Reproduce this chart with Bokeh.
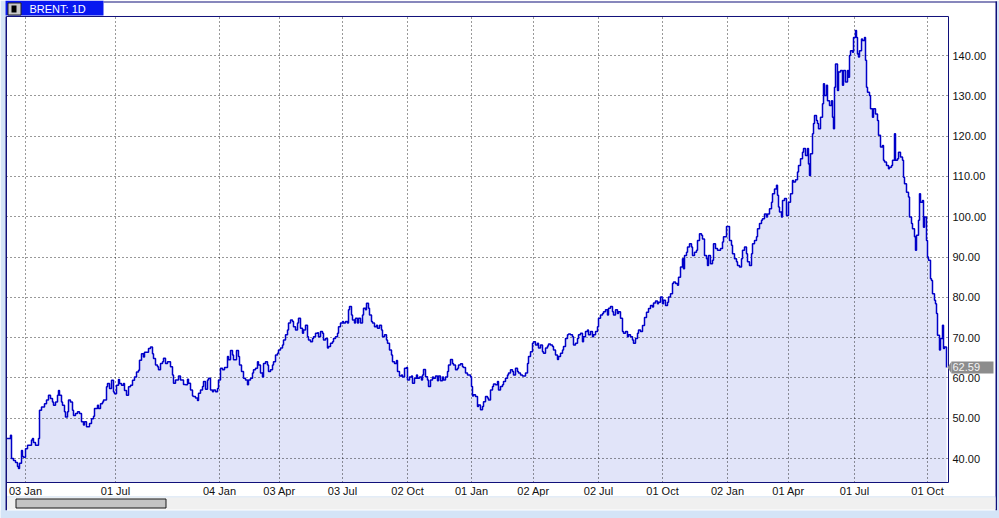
from bokeh.plotting import figure
from bokeh.models import (Range1d, FixedTicker, BoxAnnotation, Label, PolyAnnotation,
                          PrintfTickFormatter, ColumnDataSource)
from bokeh.embed import file_html
from bokeh.resources import INLINE

symbol = "BRENT: 1D"

# session index (trading-bar number from chart start) and close
session = [
    0, 2, 4, 5, 7, 9, 11, 12, 13, 15,
    16, 17, 19, 21, 23, 25, 26, 27, 29, 31,
    32, 33, 35, 37, 38, 40, 42, 44, 46, 47,
    49, 51, 52, 53, 55, 56, 58, 59, 61, 62,
    64, 66, 67, 69, 71, 73, 75, 77, 78, 80,
    82, 83, 85, 87, 88, 91, 92, 94, 96, 97,
    100, 101, 103, 105, 107, 108, 110, 112, 113, 115,
    117, 118, 120, 122, 124, 126, 128, 130, 132, 133,
    135, 137, 138, 141, 142, 144, 146, 147,
    149, 151, 152, 154, 156, 157, 159, 161, 162, 164,
    166, 167, 169, 171, 172, 174, 176, 177, 179, 181,
    182, 184, 186, 187, 189, 191, 192, 194, 196, 197,
    199, 201, 202, 204, 206, 207, 209, 211, 212, 214,
    216, 218, 221, 222, 224, 226, 227, 230, 232, 233,
    235, 237, 239, 241, 242, 244, 246, 247, 249, 251,
    252, 254, 256, 257, 259, 261, 262, 264, 266, 267,
    269, 271, 272, 274, 276, 277, 279, 281, 282, 284,
    286, 287, 289, 291, 292, 294, 296, 297, 299, 301,
    302, 304, 306, 307,
    309, 311, 312, 314, 316, 317, 319, 321, 322, 324,
    326, 327, 329, 331, 332, 334, 336, 337, 339, 341,
    342, 343, 345, 346, 348, 349, 351, 352, 354, 356,
    357, 359, 360, 362, 363, 365, 366, 368, 370, 371,
    373, 375, 376, 378, 380, 381, 383, 385, 386, 388,
    390, 391, 393, 395, 396, 398, 400, 401, 403, 405,
    406, 408, 410, 411, 413, 415, 416, 417, 419, 421,
    422, 424, 426, 427, 429, 431, 432, 434, 436, 437,
    439, 441, 442, 444, 446, 447, 449, 451, 452, 454,
    456, 457, 459, 461, 462, 464, 465, 466, 467,
    469, 471, 472, 474, 476, 477, 479, 481, 482, 484,
    486, 487, 489, 491, 492, 494, 496, 497, 499, 501,
    502, 504, 506, 507, 509, 511, 512, 514, 516, 517,
    519, 521, 522, 524, 526, 527, 529, 531, 532, 534,
    536, 537, 539, 541, 542, 544, 546, 547, 549, 551,
    552, 554, 556, 557, 559, 561, 562, 564, 566, 567,
    569, 571, 572, 574, 576, 577, 579, 581, 582, 584,
    586, 587, 589, 591, 592, 594, 596, 597, 599, 601,
    602, 604, 606, 607, 609, 611, 612, 614, 616, 617,
    619, 621, 622, 624, 626, 627, 629, 631, 632, 634,
    636, 638, 640,
    642, 644, 646, 647, 649, 651, 652, 654, 656, 657,
    659, 661, 662, 664, 666, 667, 669, 671, 672, 674,
    676, 677, 678, 680, 681, 683, 685, 686, 688, 690,
    691, 693, 695, 696, 698, 700, 701, 702, 704, 706,
    707, 709, 711, 712, 714, 716, 717, 719, 720, 722,
    723, 725, 726, 728, 730, 731, 733, 735, 736, 738,
    740, 741, 743, 745, 746, 748, 750, 751, 753, 755,
    756, 758, 760, 761, 763, 765, 766, 768, 770, 771,
    772, 773, 775, 776, 778, 780, 781, 782, 784, 786,
    787,
    789, 791, 792, 794, 796, 797, 799, 801, 802, 803,
    804, 806, 807, 808, 810, 811, 812, 814, 816, 817,
    818, 820, 821, 823, 825, 826, 827, 828, 829, 831,
    832, 834, 836, 837, 839, 841, 842, 843, 844, 846,
    847, 849, 850, 851, 852, 853, 855, 856, 858, 859,
    860, 861, 863, 864, 866, 867, 869, 871, 872, 874,
    876, 877, 878, 880, 882, 883, 885, 886, 888, 889,
    891, 892, 894, 896, 897, 898, 900, 902, 903, 905,
    906, 908, 909, 910, 912, 913, 914, 916, 917, 918,
    920, 921, 922, 924, 925, 926, 928, 929, 930, 931,
    933, 934, 936, 937, 938, 940,
]

close = [
    45.0, 45.0, 45.8, 40.0, 39.5, 39.0, 38.0, 37.5, 38.8, 42.0,
    40.5, 40.3, 42.4, 43.3, 43.3, 44.6, 45.0, 44.0, 43.3, 43.3,
    45.0, 52.0, 52.8, 52.8, 53.6, 54.5, 55.7, 54.9, 54.0, 53.2,
    54.0, 55.7, 56.9, 55.7, 54.0, 53.2, 51.6, 50.3, 51.6, 54.5,
    54.0, 52.0, 50.7, 51.2, 51.6, 51.2, 49.1, 48.3, 49.1, 47.9,
    47.9, 48.7, 49.9, 50.5, 52.4, 53.2, 52.4, 53.6, 54.0, 54.5,
    57.8, 58.6, 57.4, 59.4, 56.5, 56.1, 58.2, 59.6, 58.6, 58.2,
    58.6, 56.9, 55.7, 57.8, 58.2, 59.4, 60.2, 61.5, 61.9, 64.4,
    66.0, 65.2, 66.4, 66.4, 67.3, 67.7, 66.0, 64.8,
    63.2, 62.8, 62.0, 63.6, 64.0, 64.9, 63.6, 64.0, 64.0, 62.8,
    60.7, 58.7, 59.5, 59.5, 60.5, 59.5, 59.5, 58.4, 58.3, 59.7,
    58.7, 57.0, 55.5, 55.4, 55.0, 54.4, 56.2, 57.0, 57.9, 59.1,
    57.2, 59.5, 59.9, 57.0, 56.6, 57.0, 56.6, 57.4, 59.5, 62.4,
    62.0, 62.6, 65.3, 64.5, 66.8, 65.7, 64.5, 66.8, 65.3, 63.2,
    61.6, 59.9, 59.5, 58.3, 59.5, 59.9, 61.2, 62.0, 62.4, 64.0,
    63.2, 61.2, 60.2, 63.6, 64.0, 63.2, 61.6, 62.0, 63.2, 64.0,
    65.7, 66.1, 66.9, 67.4, 68.2, 69.4, 70.7, 71.9, 73.6, 74.4,
    74.0, 72.7, 71.9, 73.6, 74.8, 72.3, 71.1, 71.9, 73.1, 70.2,
    69.4, 69.0, 69.8, 70.2,
    71.1, 71.2, 70.2, 71.5, 71.1, 69.4, 69.8, 67.4, 67.8, 68.6,
    69.0, 69.8, 70.2, 71.1, 72.7, 73.6, 74.0, 73.6, 74.0, 73.6,
    76.9, 77.7, 75.6, 74.4, 73.6, 74.8, 73.6, 74.8, 73.6, 75.6,
    77.3, 76.9, 78.5, 77.3, 75.6, 74.0, 73.6, 72.7, 73.1, 72.3,
    73.1, 71.9, 70.2, 70.7, 69.4, 68.6, 66.9, 65.7, 64.0, 63.6,
    64.3, 61.6, 60.5, 60.7, 60.2, 62.4, 62.6, 59.5, 60.2, 60.5,
    58.7, 59.9, 60.7, 59.9, 60.2, 59.5, 60.7, 62.1, 60.3, 59.5,
    57.9, 59.5, 60.2, 59.9, 60.5, 59.3, 60.5, 59.3, 60.2, 59.5,
    60.2, 61.6, 63.2, 64.6, 63.6, 63.2, 62.0, 62.4, 63.2, 63.5,
    62.8, 62.6, 61.2, 60.7, 60.7, 60.3, 57.9, 55.5, 55.8,
    55.4, 52.9, 53.3, 52.1, 52.9, 54.1, 55.4, 55.0, 54.5, 57.0,
    57.9, 58.5, 58.3, 59.1, 57.0, 57.9, 58.3, 59.1, 59.9, 60.7,
    61.2, 62.0, 61.6, 60.7, 62.4, 61.6, 61.2, 60.7, 60.5, 60.5,
    61.2, 63.6, 65.3, 66.5, 68.6, 69.0, 68.2, 68.6, 67.4, 68.2,
    66.5, 66.1, 67.4, 67.9, 68.4, 68.2, 67.8, 66.9, 65.7, 64.6,
    65.3, 66.1, 66.9, 67.8, 69.8, 70.7, 70.9, 70.7, 70.2, 68.2,
    68.6, 69.8, 70.7, 71.1, 69.0, 70.2, 71.5, 71.9, 70.7, 71.5,
    70.2, 70.7, 71.5, 72.7, 74.8, 75.6, 76.0, 76.4, 76.9, 75.6,
    77.3, 77.7, 76.4, 75.6, 76.9, 76.0, 76.4, 74.8, 71.5, 71.1,
    71.5, 70.2, 70.7, 70.2, 69.4, 68.6, 69.8, 71.1, 71.9, 71.5,
    73.0, 75.0, 76.3,
    77.2, 78.0, 77.6, 78.6, 79.1, 78.4, 78.8, 80.1, 78.4, 79.3,
    78.0, 78.8, 80.1, 80.9, 83.4, 83.8, 83.4, 83.0, 85.0, 87.5,
    89.6, 87.1, 90.4, 91.2, 92.5, 93.3, 92.5, 90.4, 91.2, 91.7,
    94.1, 95.8, 95.4, 94.5, 90.4, 89.6, 87.9, 90.4, 88.3, 89.2,
    93.3, 92.1, 91.7, 91.7, 92.1, 93.7, 95.0, 95.0, 97.6, 97.6,
    94.1, 92.9, 90.8, 89.6, 88.8, 87.9, 87.5, 89.6, 91.7, 92.5,
    90.8, 88.8, 87.9, 90.8, 93.3, 94.1, 95.0, 97.0, 98.3, 99.1,
    99.5, 100.7, 99.9, 100.7, 102.0, 103.6, 105.7, 106.9, 107.8, 105.3,
    102.4, 101.2, 99.9, 104.0, 104.5, 100.3, 100.3, 103.6, 105.7, 109.0,
    108.6,
    109.2, 111.1, 112.7, 114.4, 116.0, 116.9, 115.2, 116.9, 113.1, 110.2,
    115.6, 120.6, 123.1, 125.1, 123.9, 123.1, 121.8, 124.7, 128.0, 133.0,
    130.1, 132.6, 128.8, 127.6, 128.8, 124.7, 121.8, 132.1, 137.9, 131.3,
    135.9, 136.3, 132.6, 136.3, 133.4, 136.3, 134.6, 140.0, 141.2, 140.8,
    144.5, 146.2, 144.5, 140.4, 139.6, 141.2, 144.1, 143.7, 144.5, 138.8,
    132.1, 130.9, 130.1, 126.8, 124.7, 126.8, 125.5, 123.9, 120.2, 117.3,
    117.7, 114.0, 113.6, 112.7, 111.9, 112.3, 112.7, 114.0, 120.6, 114.0,
    114.4, 116.0, 114.8, 114.0, 109.8, 108.2, 106.1, 104.9, 99.9, 98.3,
    97.0, 95.0, 91.7, 95.4, 99.1, 105.7, 103.6, 104.0, 97.4, 99.9,
    94.1, 90.0, 89.2, 84.6, 84.2, 80.9, 79.3, 78.4, 76.0, 70.6,
    66.9, 69.8, 73.1, 67.3, 67.7, 62.59,
]
assert len(session) == len(close)

tick_sessions = [19, 109, 213, 273, 336, 401, 465, 527, 592, 656, 721, 782, 848, 921]
tick_labels = ["03 Jan", "01 Jul", "04 Jan", "03 Apr", "03 Jul", "02 Oct", "01 Jan",
               "02 Apr", "02 Jul", "01 Oct", "02 Jan", "01 Apr", "01 Jul", "01 Oct"]
price_ticks = [40, 50, 60, 70, 80, 90, 100, 110, 120, 130, 140]

# chart pane bounds (sessions / price) and the visible window around it
PANE_L, PANE_R = 0, 942
PANE_B, PANE_T = 34.05, 149.68
VIEW_X = (-6, 993)
VIEW_Y = (25.12, 153.65)

W, H = 999, 518
FONT = "Liberation Sans"
NAVY = "#10107a"
PALE = "#d4e4f7"

src = ColumnDataSource(dict(session=session, close=close))

p = figure(width=W, height=H, output_backend="svg", toolbar_location=None,
           title=None, x_range=Range1d(*VIEW_X), y_range=Range1d(*VIEW_Y),
           y_axis_location="right", min_border=0,
           min_border_left=0, min_border_right=0, min_border_top=0, min_border_bottom=0,
           background_fill_color="white", border_fill_color="white",
           outline_line_color=None)

p.varea_step(x="session", y1=PANE_B, y2="close", step_mode="after", source=src,
             fill_color="#e1e4f9")
line = p.step(x="session", y="close", mode="after", source=src,
              line_color="#0000c8", line_width=1.5)
line.level = "overlay"

xax, yax = p.xaxis[0], p.yaxis[0]
xax.fixed_location = PANE_B
yax.fixed_location = PANE_R
for ax in (xax, yax):
    ax.axis_line_color = None
    ax.major_tick_line_color = None
    ax.minor_tick_line_color = None
    ax.major_tick_in = 0
    ax.major_tick_out = 0
    ax.minor_tick_in = 0
    ax.minor_tick_out = 0
    ax.major_label_text_font = FONT
    ax.major_label_text_font_size = "11px"
    ax.major_label_text_color = "#111111"

xax.ticker = FixedTicker(ticks=tick_sessions)
xax.major_label_overrides = {t: l for t, l in zip(tick_sessions, tick_labels)}
xax.major_label_standoff = 2
yax.ticker = FixedTicker(ticks=price_ticks)
yax.formatter = PrintfTickFormatter(format="%.2f")
yax.major_label_standoff = 4

p.xgrid[0].cross_bounds = (PANE_B, PANE_T)
p.ygrid[0].cross_bounds = (PANE_L, PANE_R)
for g in (p.xgrid[0], p.ygrid[0]):
    g.grid_line_color = "#000000"
    g.grid_line_alpha = 0.8
    g.grid_line_dash = "1 3"
    g.grid_line_width = 1
    g.level = "annotation"


def sbox(l, r, b, t, color, line_color=None):
    """box in screen pixels (origin bottom-left of the canvas)"""
    bx = BoxAnnotation(left=l, right=r, bottom=b, top=t,
                       left_units="screen", right_units="screen",
                       bottom_units="screen", top_units="screen",
                       fill_color=color, fill_alpha=1.0,
                       line_color=line_color, line_alpha=1.0, line_width=1,
                       level="overlay")
    p.add_layout(bx)
    return bx


# chart pane border
p.add_layout(BoxAnnotation(left=PANE_L, right=PANE_R, bottom=PANE_B, top=PANE_T,
                           fill_color=None, line_color=NAVY, line_alpha=1.0,
                           line_width=1, level="overlay"))

# window chrome
sbox(0, 5, 0, H, PALE)                       # left strip
sbox(5, 6.5, 8, H - 16, NAVY)                # left edge
sbox(996.5, W, 0, H, PALE)                   # right strip
sbox(995, 996.5, 8, H - 1, NAVY)             # right border
sbox(103, 996.5, H - 2, H - 1, NAVY)         # top border
sbox(6.5, 995, 21, 22, "#c8daf0")            # separator
sbox(6.5, 995, 9, 21, "#f0f0f0")             # scroll track
sbox(15.5, 165.5, 10.5, 19.5, "#c4c4c4", "#1a1a1a")  # scroll thumb
sbox(0, W, 0, 8, PALE)                       # bottom strip

# title tab
sbox(5, 103, H - 15, H, "#0818f0")
sbox(7.5, 20.5, H - 14.5, H - 2.5, "#c8c8c8", "#202020")
sbox(11, 16, H - 12, H - 5, "#000000")
p.add_layout(Label(x=29, y=H - 8, x_units="screen", y_units="screen", text=symbol,
                   text_color="white", text_font=FONT, text_font_size="11px",
                   text_baseline="middle", level="overlay"))

# last price marker
last = close[-1]
p.add_layout(BoxAnnotation(left=951, right=993, bottom=last - 1.5, top=last + 1.5,
                           left_units="screen", right_units="screen",
                           fill_color="#8c8c8c", fill_alpha=1.0, line_color=None,
                           level="overlay"))
p.add_layout(PolyAnnotation(xs=[947, 951, 951], ys=[last, last + 1.5, last - 1.5],
                            xs_units="screen", ys_units="data",
                            fill_color="#8c8c8c", fill_alpha=1.0, line_color=None,
                            level="overlay"))
p.add_layout(Label(x=952, y=last, x_units="screen", y_units="data",
                   text=f"{last:.2f}", text_color="#f4f4f4", text_font=FONT,
                   text_font_size="11px", text_baseline="middle", level="overlay"))

open("out.html", "w").write(file_html(p, INLINE))
